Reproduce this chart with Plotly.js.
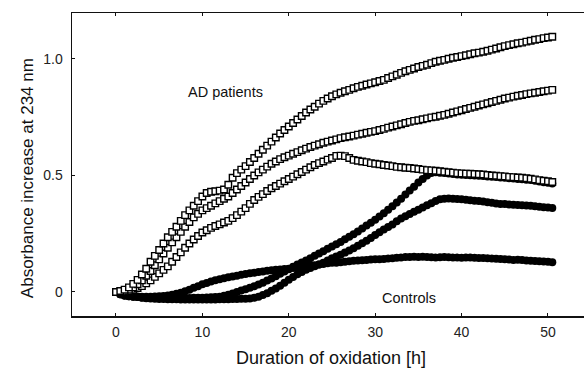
<!DOCTYPE html>
<html>
<head>
<meta charset="utf-8">
<script src="https://cdn.plot.ly/plotly-3.0.1.min.js"></script>
<style>html,body{margin:0;padding:0;background:#fff;}#chart{width:584px;height:368px;}</style>
</head>
<body>
<div id="chart"></div>
<script>
// Sampling times (h)
const hours = [
  0,0.5,1,1.5,2,2.5,3,3.5,4,4.5,
  5,5.5,6,6.5,7,7.5,8,8.5,9,9.5,
  10,10.5,11,11.5,12,12.5,13,13.5,14,14.5,
  15,15.5,16,16.5,17,17.5,18,18.5,19,19.5,
  20,20.5,21,21.5,22,22.5,23,23.5,24,24.5,
  25,25.5,26,26.5,27,27.5,28,28.5,29,29.5,
  30,30.5,31,31.5,32,32.5,33,33.5,34,34.5,
  35,35.5,36,36.5,37,37.5,38,38.5,39,39.5,
  40,40.5,41,41.5,42,42.5,43,43.5,44,44.5,
  45,45.5,46,46.5,47,47.5,48,48.5,49,49.5,
  50,50.5
];

// AD patients (open squares)
const adPatient1 = [
  0.000,0.004,0.010,0.020,0.035,0.052,0.075,0.100,0.130,0.155,
  0.180,0.208,0.235,0.258,0.280,0.305,0.330,0.350,0.370,0.390,
  0.410,0.425,0.430,0.432,0.435,0.440,0.460,0.490,0.510,0.525,
  0.540,0.558,0.575,0.593,0.610,0.628,0.645,0.663,0.680,0.695,
  0.710,0.725,0.740,0.755,0.770,0.783,0.795,0.808,0.820,0.830,
  0.840,0.848,0.855,0.861,0.867,0.874,0.880,0.885,0.890,0.895,
  0.900,0.905,0.910,0.918,0.925,0.932,0.940,0.947,0.953,0.959,
  0.965,0.970,0.975,0.982,0.988,0.992,0.996,1.001,1.005,1.008,
  1.012,1.016,1.020,1.024,1.027,1.031,1.035,1.040,1.045,1.050,
  1.055,1.059,1.063,1.067,1.070,1.074,1.078,1.082,1.085,1.089,
  1.092,1.095
];
const adPatient2 = [
  0.000,0.002,0.005,0.010,0.020,0.033,0.050,0.070,0.090,0.115,
  0.140,0.165,0.190,0.213,0.235,0.258,0.280,0.300,0.320,0.335,
  0.350,0.360,0.370,0.380,0.390,0.400,0.410,0.425,0.440,0.455,
  0.470,0.485,0.500,0.513,0.525,0.538,0.550,0.560,0.570,0.578,
  0.585,0.593,0.600,0.608,0.615,0.622,0.628,0.634,0.640,0.645,
  0.650,0.655,0.660,0.664,0.667,0.671,0.675,0.679,0.683,0.687,
  0.690,0.695,0.700,0.705,0.710,0.715,0.720,0.725,0.730,0.734,
  0.737,0.741,0.745,0.749,0.752,0.756,0.760,0.765,0.770,0.775,
  0.780,0.785,0.790,0.795,0.800,0.805,0.810,0.815,0.820,0.825,
  0.830,0.834,0.838,0.842,0.845,0.849,0.852,0.855,0.858,0.861,
  0.864,0.867
];
const adPatient3 = [
  0.000,0.000,0.000,0.004,0.010,0.017,0.025,0.037,0.050,0.065,
  0.080,0.095,0.110,0.130,0.150,0.170,0.190,0.208,0.225,0.240,
  0.255,0.265,0.275,0.283,0.290,0.298,0.305,0.317,0.330,0.345,
  0.360,0.378,0.395,0.408,0.420,0.433,0.445,0.455,0.465,0.475,
  0.485,0.495,0.505,0.515,0.525,0.535,0.545,0.553,0.560,0.568,
  0.575,0.584,0.585,0.583,0.575,0.567,0.563,0.560,0.557,0.553,
  0.550,0.548,0.545,0.543,0.540,0.537,0.535,0.533,0.532,0.530,
  0.528,0.525,0.523,0.522,0.520,0.518,0.516,0.514,0.512,0.510,
  0.509,0.508,0.507,0.506,0.505,0.504,0.502,0.500,0.499,0.497,
  0.496,0.494,0.493,0.491,0.490,0.488,0.486,0.483,0.480,0.477,
  0.475,0.472
];

// Controls (filled markers)
const control1 = [
  0.000,-0.010,-0.015,-0.018,-0.020,-0.022,-0.024,-0.025,-0.025,-0.026,
  -0.026,-0.027,-0.027,-0.027,-0.026,-0.027,-0.026,-0.026,-0.025,-0.025,
  -0.025,-0.024,-0.023,-0.021,-0.020,-0.016,-0.012,-0.006,0.000,0.006,
  0.012,0.018,0.025,0.032,0.040,0.049,0.058,0.068,0.078,0.088,
  0.098,0.108,0.118,0.127,0.135,0.145,0.155,0.165,0.175,0.185,
  0.195,0.205,0.215,0.226,0.237,0.248,0.260,0.272,0.285,0.297,
  0.310,0.324,0.338,0.353,0.368,0.384,0.400,0.418,0.435,0.452,
  0.470,0.485,0.500,0.510,0.514,0.512,0.510,0.508,0.506,0.504,
  0.503,0.502,0.501,0.500,0.499,0.498,0.496,0.494,0.493,0.491,
  0.490,0.488,0.487,0.485,0.484,0.482,0.480,0.477,0.474,0.471,
  0.469,0.466
];
const control2 = [
  0.000,-0.010,-0.015,-0.018,-0.020,-0.022,-0.025,-0.027,-0.028,-0.029,
  -0.030,-0.030,-0.031,-0.031,-0.031,-0.032,-0.032,-0.032,-0.032,-0.032,
  -0.032,-0.032,-0.032,-0.032,-0.031,-0.031,-0.031,-0.030,-0.030,-0.029,
  -0.029,-0.028,-0.025,-0.020,-0.013,-0.005,0.005,0.015,0.027,0.040,
  0.052,0.064,0.076,0.086,0.095,0.103,0.110,0.118,0.125,0.135,
  0.145,0.152,0.160,0.169,0.178,0.188,0.198,0.209,0.220,0.232,
  0.245,0.256,0.268,0.279,0.290,0.303,0.315,0.325,0.335,0.344,
  0.353,0.362,0.372,0.381,0.390,0.398,0.400,0.401,0.400,0.399,
  0.398,0.396,0.394,0.392,0.390,0.388,0.385,0.383,0.380,0.378,
  0.377,0.375,0.374,0.373,0.372,0.371,0.370,0.368,0.366,0.364,
  0.362,0.360
];
const control3 = [
  0.000,-0.010,-0.015,-0.017,-0.018,-0.019,-0.020,-0.020,-0.020,-0.019,
  -0.018,-0.017,-0.015,-0.012,-0.008,-0.003,0.003,0.010,0.018,0.025,
  0.033,0.039,0.045,0.050,0.055,0.059,0.063,0.067,0.070,0.074,
  0.077,0.080,0.083,0.086,0.088,0.091,0.093,0.095,0.097,0.099,
  0.100,0.103,0.105,0.108,0.110,0.113,0.115,0.118,0.120,0.123,
  0.125,0.126,0.128,0.130,0.132,0.134,0.135,0.136,0.137,0.139,
  0.140,0.141,0.142,0.144,0.145,0.147,0.148,0.150,0.150,0.151,
  0.150,0.151,0.150,0.149,0.148,0.149,0.150,0.149,0.148,0.148,
  0.147,0.148,0.148,0.147,0.146,0.146,0.145,0.144,0.143,0.142,
  0.140,0.139,0.137,0.138,0.137,0.135,0.134,0.133,0.132,0.131,
  0.130,0.128
];

const xTicks = [0, 10, 20, 30, 40, 50];
const yTicks = [0, 0.5, 1.0];
const yTickLabels = ['0', '0.5', '1.0'];
const labelAD = 'AD patients';
const labelControls = 'Controls';
const xTitle = 'Duration of oxidation [h]';
const yTitle = 'Absorbance increase at 234 nm';

const FONT = '"Liberation Sans", Arial, Helvetica, sans-serif';

function ctrl(y, name) {
  return {x: hours, y: y, name: name, type: 'scatter', mode: 'markers',
    marker: {symbol: 'circle', size: 8, color: '#000', line: {width: 0}},
    showlegend: false, hoverinfo: 'skip'};
}
function ad(y, name) {
  return {x: hours, y: y, name: name, type: 'scatter', mode: 'markers',
    marker: {symbol: 'square', size: 6.5, color: '#fff', line: {width: 1.4, color: '#000'}},
    showlegend: false, hoverinfo: 'skip'};
}

const data = [
  ctrl(control3, 'Control 3'),
  ctrl(control2, 'Control 2'),
  ctrl(control1, 'Control 1'),
  ad(adPatient3, 'AD 3'),
  ad(adPatient2, 'AD 2'),
  ad(adPatient1, 'AD 1')
];

const layout = {
  width: 584, height: 368,
  margin: {l: 72, r: 0, t: 13, b: 52, pad: 0},
  paper_bgcolor: '#fff', plot_bgcolor: '#fff',
  font: {family: FONT, size: 14, color: '#111'},
  showlegend: false,
  xaxis: {
    range: [-5.09, 54.17], tickvals: xTicks, ticktext: xTicks.map(String),
    showgrid: false, zeroline: false, showline: true, linecolor: '#111', linewidth: 1.5,
    mirror: 'ticks', ticks: 'inside', ticklen: 3, tickwidth: 1, tickcolor: '#111',
    ticklabelstandoff: 3,
    tickfont: {family: FONT, size: 14, color: '#222'}
  },
  yaxis: {
    range: [-0.103, 1.197], tickvals: yTicks, ticktext: yTickLabels,
    showgrid: false, zeroline: false, showline: true, linecolor: '#111', linewidth: 1.5,
    mirror: false, ticks: 'inside', ticklen: 3, tickwidth: 1, tickcolor: '#111',
    ticklabelstandoff: 5,
    tickfont: {family: FONT, size: 14, color: '#222'}
  },
  annotations: [
    {x: 12.67, y: 0.858, xref: 'x', yref: 'y', text: labelAD, showarrow: false,
     font: {family: FONT, size: 14.5, color: '#111'}, xanchor: 'center', yanchor: 'middle'},
    {x: 33.9, y: -0.026, xref: 'x', yref: 'y', text: labelControls, showarrow: false,
     font: {family: FONT, size: 14.5, color: '#111'}, xanchor: 'center', yanchor: 'middle'},
    {x: 0.506, y: -0.1386, xref: 'paper', yref: 'paper', text: xTitle, showarrow: false,
     font: {family: FONT, size: 18, color: '#111'}, xanchor: 'center', yanchor: 'middle'},
    {x: -0.0879, y: 0.455, xref: 'paper', yref: 'paper', text: yTitle, showarrow: false,
     textangle: -90, font: {family: FONT, size: 17, color: '#111'}, xanchor: 'center', yanchor: 'middle'}
  ]
};

Plotly.newPlot('chart', data, layout, {staticPlot: true, displayModeBar: false});
</script>
</body>
</html>
